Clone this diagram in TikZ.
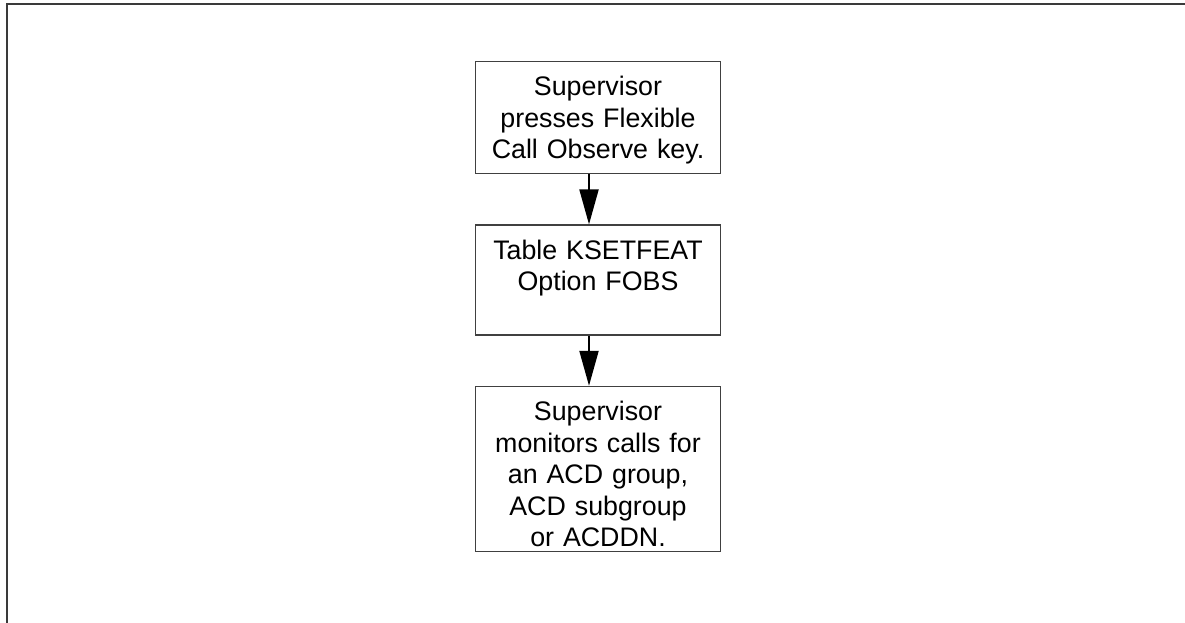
\documentclass[tikz,border=0pt]{standalone}
\usepackage{fontspec}
\setsansfont{Liberation Sans}
\usepackage{xcolor}
\usepackage{tikz}
\usetikzlibrary{arrows.meta,positioning}
\definecolor{frame}{HTML}{3A3A3A}
\definecolor{edge}{HTML}{404040}
\tikzset{
  stepbox/.style={
    draw=edge,fill=white,line width=1.4pt,
    text width=230pt,inner xsep=7.5pt,inner ysep=14pt,
    text height=20pt,align=center,
    font=\sffamily\fontsize{26.8}{31.5}\selectfont
  },
  arrow/.style={-{Triangle[length=35pt,width=19pt]},draw=black,line width=2pt}
}
\begin{document}
\begin{tikzpicture}[x=1pt,y=1pt,node distance=50pt]
\useasboundingbox (0,0) rectangle (1185,-623);
\draw[frame,line width=2pt] (1190,-4) -- (6.5,-4) -- (6.5,-630);

\node[stepbox,text depth=64pt,anchor=north] (press) at (598,-61)
{Supervisor\\presses Flexible\\Call Observe key.};
\node[stepbox,text depth=62pt,below=of press] (table)
{Table KSETFEAT\\Option FOBS};
\node[stepbox,text depth=117pt,below=of table] (monitor)
{Supervisor\\monitors calls for\\an ACD group,\\ACD subgroup\\or ACDDN.};

\draw[arrow] ([xshift=-9pt]press.south) -- ([xshift=-9pt]table.north);
\draw[arrow] ([xshift=-9pt]table.south) -- ([xshift=-9pt]monitor.north);
\end{tikzpicture}
\end{document}
